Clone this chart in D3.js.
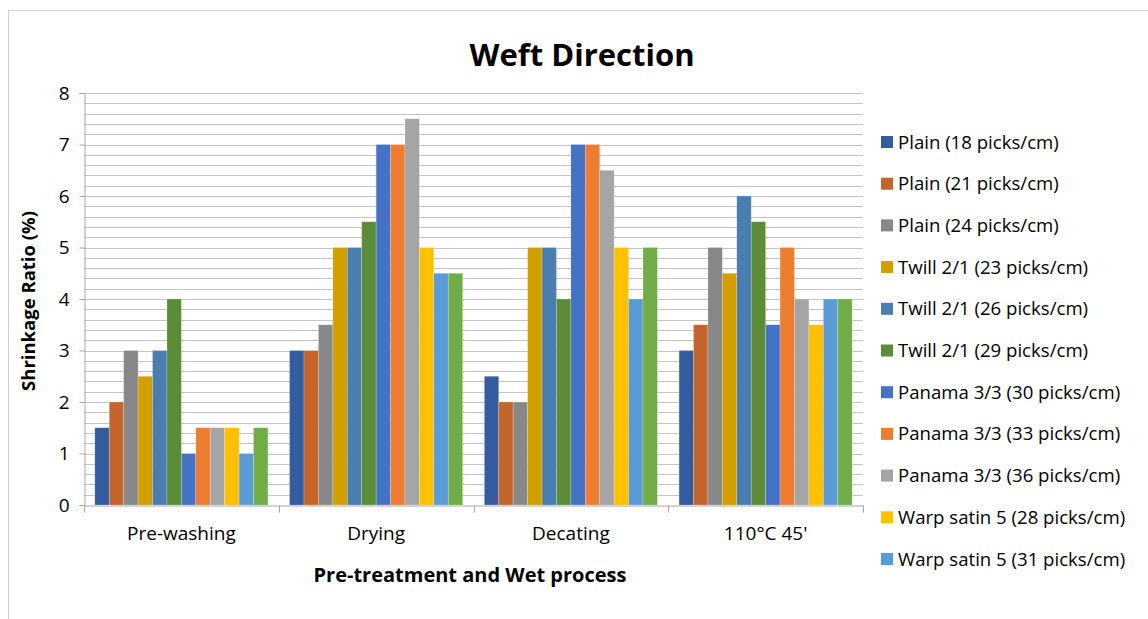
<!DOCTYPE html>
<html>
<head>
<meta charset="utf-8">
<script src="https://cdn.jsdelivr.net/npm/d3@7"></script>
<style>
  body { margin: 0; background: #fff; }
  svg { display: block; font-family: "Open Sans", sans-serif; }
</style>
</head>
<body>
<svg id="chart" width="1148" height="619"></svg>
<script>
// data
const categories = ["Pre-washing", "Drying", "Decating", "110°C 45'"];
const seriesNames = [
  "Plain (18 picks/cm)", "Plain (21 picks/cm)", "Plain (24 picks/cm)",
  "Twill 2/1 (23 picks/cm)", "Twill 2/1 (26 picks/cm)", "Twill 2/1 (29 picks/cm)",
  "Panama 3/3 (30 picks/cm)", "Panama 3/3 (33 picks/cm)", "Panama 3/3 (36 picks/cm)",
  "Warp satin 5 (28 picks/cm)", "Warp satin 5 (31 picks/cm)", "Warp satin 5 (34 picks/cm)"
];
const preWashing = [1.5, 2, 3, 2.5, 3, 4, 1, 1.5, 1.5, 1.5, 1, 1.5];
const drying     = [3, 3, 3.5, 5, 5, 5.5, 7, 7, 7.5, 5, 4.5, 4.5];
const decating   = [2.5, 2, 2, 5, 5, 4, 7, 7, 6.5, 5, 4, 5];
const steam110   = [3, 3.5, 5, 4.5, 6, 5.5, 3.5, 5, 4, 3.5, 4, 4];
const yTicks = [0, 1, 2, 3, 4, 5, 6, 7, 8];

const colors = ["#345C9F", "#C4662B", "#888888", "#D19F00", "#4A7EB0", "#5B8D38",
                "#4472C4", "#ED7D31", "#A5A5A5", "#FFC000", "#5B9BD5", "#70AD47"];

const table = categories.map((c, i) => ({
  cat: c,
  vals: [preWashing, drying, decating, steam110][i]
}));

const svg = d3.select('#chart');
const margin = {left: 84, right: 285, top: 93, bottom: 114};
const W = +svg.attr('width'), H = +svg.attr('height');

// chart frame (clipped on right/bottom in the original)
svg.append('rect')
  .attr('x', 8.5).attr('y', 10.5)
  .attr('width', W + 10).attr('height', H + 10)
  .attr('fill', 'none').attr('stroke', '#d0d0d0');

const x0 = d3.scaleBand().domain(categories)
  .range([margin.left, W - margin.right]).paddingInner(0).paddingOuter(0);
// Excel gap width 150% -> outer padding is 0.75 bar each side
const x1 = d3.scaleBand().domain(d3.range(seriesNames.length))
  .range([0, x0.bandwidth()]).paddingInner(0).paddingOuter(0.75);
const y = d3.scaleLinear().domain([0, 8]).range([H - margin.bottom, margin.top]);

// grid lines every 0.2
const grid = d3.range(0, 8.0001, 0.2).slice(1);
svg.append('g').selectAll('line').data(grid).join('line')
  .attr('x1', margin.left).attr('x2', W - margin.right)
  .attr('y1', d => Math.round(y(d)) + 0.5).attr('y2', d => Math.round(y(d)) + 0.5)
  .attr('stroke', '#c4c4c4').attr('stroke-width', 1.2);

// bars
svg.append('g').selectAll('g').data(table).join('g')
  .attr('transform', d => `translate(${x0(d.cat)},0)`)
  .selectAll('rect').data(d => d.vals.map((v, i) => ({v, i}))).join('rect')
  .attr('x', d => x1(d.i))
  .attr('width', x1.bandwidth())
  .attr('y', d => y(d.v))
  .attr('height', d => y(0) - y(d.v))
  .attr('fill', d => colors[d.i])
  .attr('stroke', '#fff').attr('stroke-opacity', 0.35).attr('stroke-width', 0.6);

// y axis
const yAxis = svg.append('g')
  .attr('transform', `translate(${margin.left + 0.5},0)`)
  .call(d3.axisLeft(y).tickValues(yTicks).tickSize(5).tickPadding(10).tickFormat(d3.format('d')));
yAxis.select('.domain').attr('stroke', '#a6a6a6');
yAxis.selectAll('.tick line').attr('stroke', '#a6a6a6');
yAxis.selectAll('text').attr('font-size', 19).attr('fill', '#000')
  .attr('font-family', '"Open Sans", sans-serif');

// x axis
const xAxis = svg.append('g')
  .attr('transform', `translate(0,${y(0) + 0.5})`)
  .call(d3.axisBottom(x0).tickSize(0).tickPadding(21));
xAxis.select('.domain').attr('stroke', '#a6a6a6');
xAxis.selectAll('text').attr('font-size', 19).attr('fill', '#000')
  .attr('font-family', '"Open Sans", sans-serif');
// category boundary ticks
const bounds = categories.map(c => x0(c)).concat([x0.range()[1]]);
xAxis.append('g').selectAll('line').data(bounds).join('line')
  .attr('x1', d => Math.round(d) + 0.5).attr('x2', d => Math.round(d) + 0.5)
  .attr('y1', 0).attr('y2', 7)
  .attr('stroke', '#a6a6a6');

// title
svg.append('text')
  .attr('x', 582).attr('y', 66)
  .attr('text-anchor', 'middle')
  .attr('font-size', 31).attr('font-weight', 'bold')
  .text('Weft Direction');

// axis titles
svg.append('text')
  .attr('transform', 'translate(35,301) rotate(-90)')
  .attr('text-anchor', 'middle')
  .attr('font-size', 18.5).attr('font-weight', 'bold')
  .text('Shrinkage Ratio (%)');
svg.append('text')
  .attr('x', 470).attr('y', 582)
  .attr('text-anchor', 'middle')
  .attr('font-size', 20).attr('font-weight', 'bold')
  .text('Pre-treatment and Wet process');

// legend: only 11 entries fit, last one clipped like the original
const legendItems = seriesNames.slice(0, 11);
const lg = svg.append('g').selectAll('g').data(legendItems).join('g')
  .attr('transform', (d, i) => `translate(881,${142 + i * 41.7})`);
lg.append('rect')
  .attr('x', 0).attr('y', -6).attr('width', 12).attr('height', 12)
  .attr('fill', (d, i) => colors[i]);
lg.append('text')
  .attr('x', 17).attr('dy', '0.35em')
  .attr('font-size', 18.6)
  .text(d => d);
</script>
</body>
</html>
